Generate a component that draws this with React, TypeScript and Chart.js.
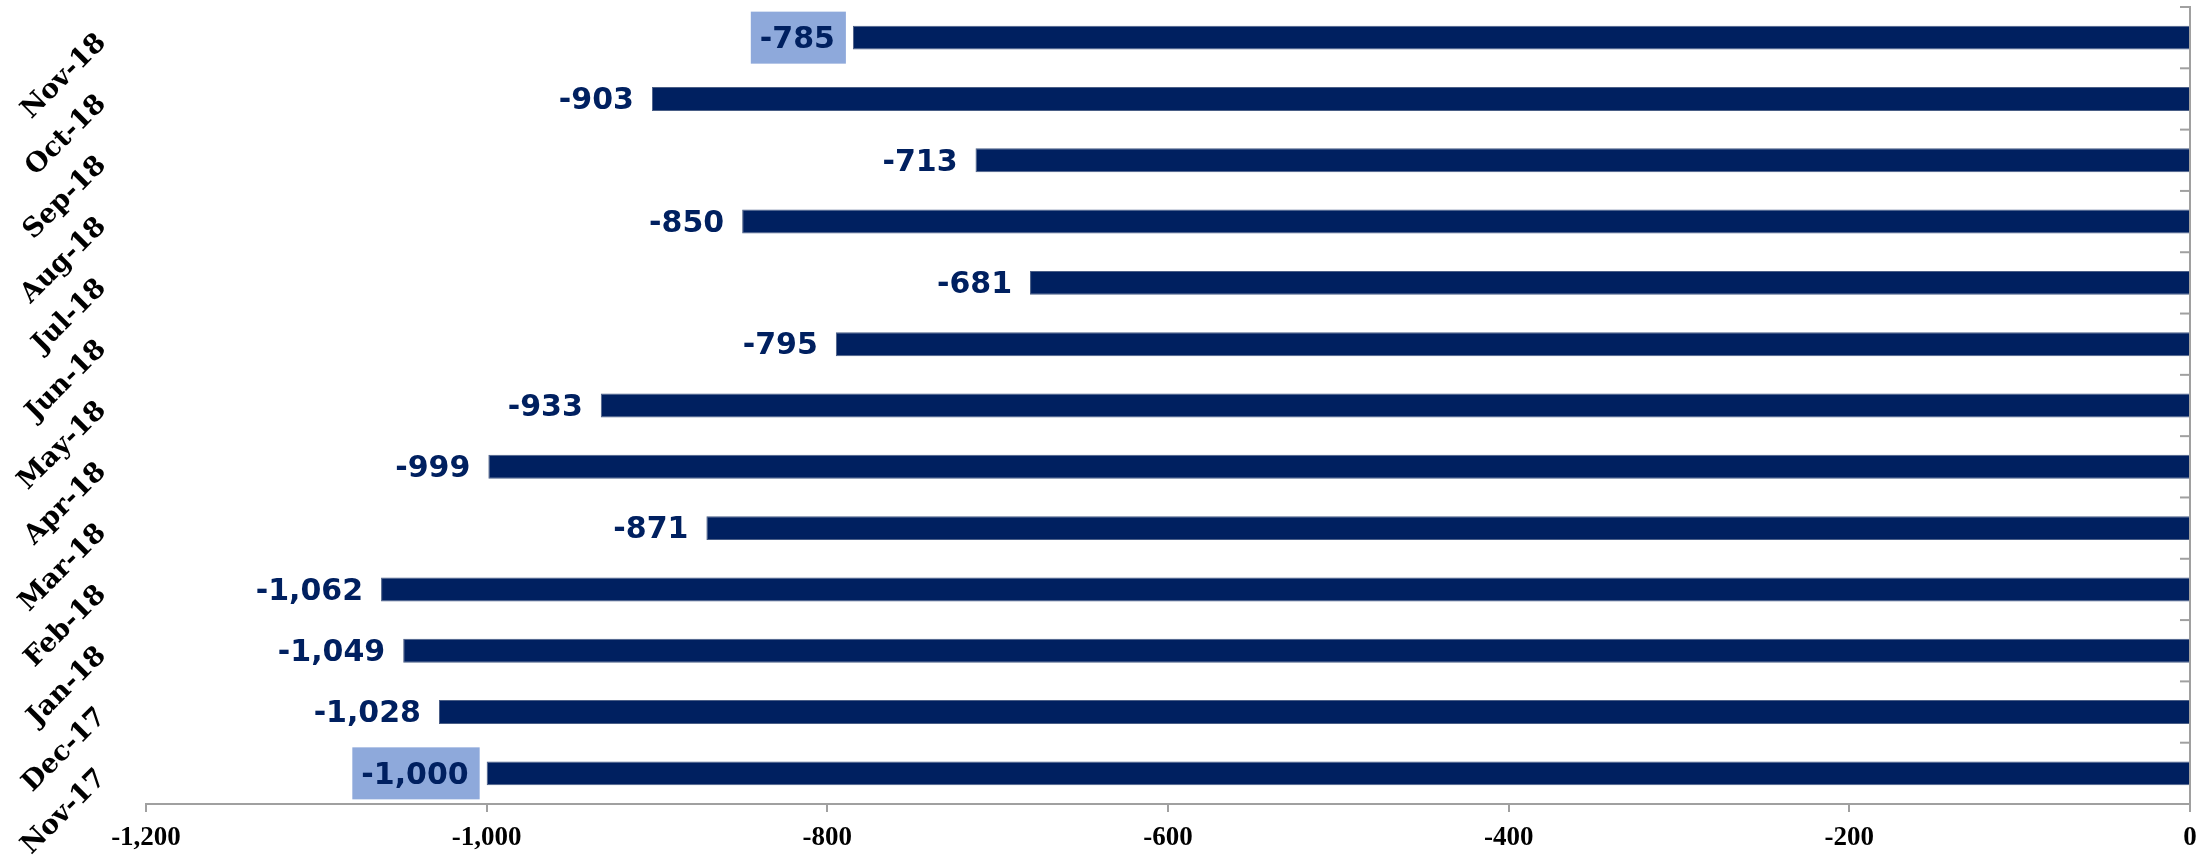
import React, { useEffect, useRef } from "react";
import { Chart, registerables } from "chart.js";

Chart.register(...registerables);

const categories = [
  "Nov-17", "Dec-17", "Jan-18", "Feb-18", "Mar-18", "Apr-18", "May-18",
  "Jun-18", "Jul-18", "Aug-18", "Sep-18", "Oct-18", "Nov-18",
];
const values = [-1000, -1028, -1049, -1062, -871, -999, -933, -795, -681, -850, -713, -903, -785];
const highlightedCategories = ["Nov-17", "Nov-18"];
const xMin = -1200;
const xMax = 0;
const xStep = 200;

const BAR_COLOR = "#002060";
const LABEL_COLOR = "#002060";
const BOX_COLOR = "#8EA9DB";
const AXIS_COLOR = "#A0A0A0";
const SERIF = '"DejaVu Serif", serif';
const SANS = '"DejaVu Sans", sans-serif';
const TICK_FONT = '"Liberation Serif", serif';

const decorPlugin = {
  id: "decor",
  afterDraw(chart: any) {
    const ctx = chart.ctx;
    const yScale = chart.scales.y;
    const area = chart.chartArea;
    // inward tick marks on right axis at category boundaries
    ctx.save();
    ctx.strokeStyle = AXIS_COLOR;
    ctx.lineWidth = 2;
    const n = categories.length;
    const step = Math.abs(yScale.getPixelForValue(1) - yScale.getPixelForValue(0));
    for (let k = 0; k < n; k++) {
      const c = yScale.getPixelForValue(k);
      const edges = k === n - 1 ? [c - step / 2, c + step / 2] : [c + step / 2];
      edges.forEach((py) => {
        ctx.beginPath();
        ctx.moveTo(area.right - 10, py);
        ctx.lineTo(area.right, py);
        ctx.stroke();
      });
    }
    ctx.restore();

    // rotated category labels on the left
    ctx.save();
    ctx.fillStyle = "#000000";
    ctx.font = `bold 27px ${SERIF}`;
    ctx.textAlign = "right";
    ctx.textBaseline = "middle";
    categories.forEach((c, i) => {
      const py = yScale.getPixelForValue(i);
      ctx.save();
      ctx.translate(102, py + 1);
      ctx.rotate(-Math.PI / 4);
      ctx.fillText(c, 0, 0);
      ctx.restore();
    });
    ctx.restore();

    // data labels
    const meta = chart.getDatasetMeta(0);
    ctx.save();
    ctx.font = `bold 30px ${SANS}`;
    ctx.textAlign = "right";
    ctx.textBaseline = "middle";
    meta.data.forEach((bar: any, i: number) => {
      const { x, y } = bar.getProps(["x", "y"], true);
      const text = values[i].toLocaleString("en-US");
      const right = x - 18;
      const w = ctx.measureText(text).width;
      if (highlightedCategories.includes(categories[i])) {
        ctx.fillStyle = BOX_COLOR;
        ctx.fillRect(right - w - 9, y - 26, w + 20, 52);
      }
      ctx.fillStyle = LABEL_COLOR;
      ctx.fillText(text, right, y + 2.5);
    });
    ctx.restore();
  },
};

export default function App() {
  const canvasRef = useRef<HTMLCanvasElement | null>(null);

  useEffect(() => {
    if (!canvasRef.current) return;
    const chart = new Chart(canvasRef.current, {
      type: "bar",
      data: {
        labels: categories,
        datasets: [
          {
            data: values,
            backgroundColor: BAR_COLOR,
            borderColor: "#4A5E86",
            borderWidth: 1,
            categoryPercentage: 1,
            barPercentage: 0.39,
          },
        ],
      },
      options: {
        indexAxis: "y",
        animation: false,
        responsive: true,
        maintainAspectRatio: false,
        layout: { padding: { left: 146, right: 18, top: 7, bottom: 0 } },
        plugins: {
          legend: { display: false },
          tooltip: { enabled: false },
        },
        scales: {
          x: {
            type: "linear",
            position: "bottom",
            min: xMin,
            max: xMax,
            ticks: {
              stepSize: xStep,
              color: "#000000",
              font: { family: TICK_FONT, weight: "bold", size: 27 },
              padding: 10,
              maxRotation: 0,
            },
            grid: {
              drawOnChartArea: false,
              drawTicks: true,
              tickLength: 8,
              color: AXIS_COLOR,
              lineWidth: 2,
            },
            border: { display: true, color: AXIS_COLOR, width: 2 },
            afterFit: (s: any) => {
              s.height = 53;
            },
          },
          y: {
            type: "category",
            position: "right",
            reverse: true,
            offset: true,
            ticks: { display: false },
            grid: { drawOnChartArea: false, drawTicks: false },
            border: { display: true, color: AXIS_COLOR, width: 2 },
            afterFit: (s: any) => {
              s.width = 0;
            },
          },
        },
      },
      plugins: [decorPlugin],
    });
    return () => chart.destroy();
  }, []);

  return (
    <div style={{ position: "fixed", left: 0, top: 0, width: 2208, height: 857, background: "#ffffff" }}>
      <canvas ref={canvasRef} />
    </div>
  );
}
